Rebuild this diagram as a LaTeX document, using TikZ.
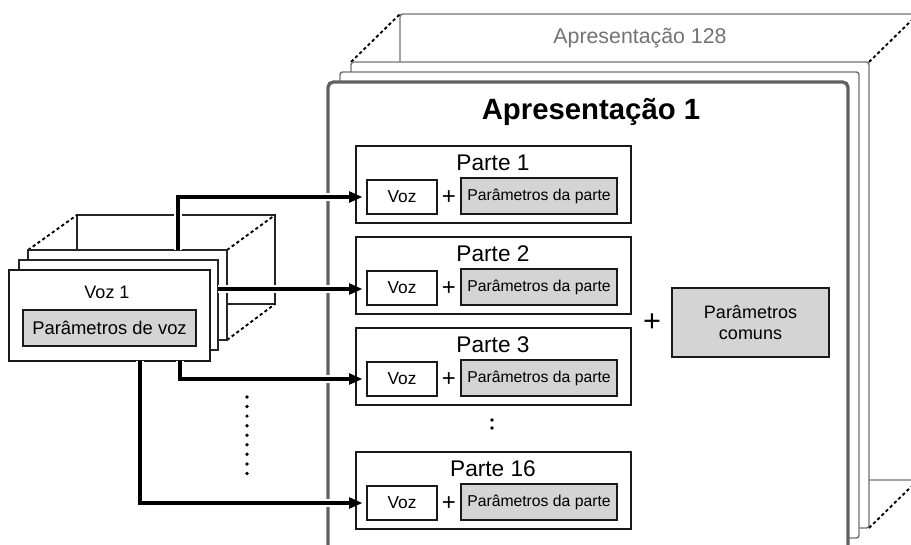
\documentclass[tikz,border=0pt]{standalone}
\usepackage{fontspec}
\setmainfont{Liberation Sans}
\usetikzlibrary{arrows.meta,positioning}
\colorlet{parmgray}{black!17}
\colorlet{framegray}{black!62}
\colorlet{sheetgray}{black!55}

\begin{document}
\begin{tikzpicture}[x=0.75pt,y=-0.75pt,-,auto]
\tikzstyle{sheet}=[draw=sheetgray,line width=1.1pt,fill=white,rounded corners=2pt]
\tikzstyle{vsheet}=[draw=black!85,line width=0.9pt,fill=white]
\tikzstyle{edgeline}=[line width=1.4pt,dash pattern=on 2.4pt off 2pt]
\tikzstyle{parte}=[draw=black!90,line width=1.6pt,fill=white,minimum width=206pt,minimum height=57.75pt,inner sep=0pt]
\tikzstyle{ttl}=[inner sep=0pt,font=\fontsize{17}{20}\selectfont]
\tikzstyle{voz}=[draw=black!90,line width=0.8pt,fill=white,minimum width=52.5pt,minimum height=25.5pt,inner sep=0pt,font=\fontsize{13}{15}\selectfont]
\tikzstyle{plus}=[inner sep=0pt,font=\fontsize{18}{20}\selectfont]
\tikzstyle{parm}=[draw=black!90,line width=1.8pt,fill=parmgray,minimum width=117pt,minimum height=27pt,inner sep=0pt,font=\fontsize{11.8}{14}\selectfont]
\tikzstyle{dots}=[line width=2.8pt,line cap=round]
\tikzstyle{link}=[line width=2.3pt,-{Triangle[length=10pt,width=8pt]},shorten >=3pt,preaction={draw=white,line width=6pt,-,shorten >=20pt}]
\useasboundingbox (0,0) rectangle (911,544);
\clip (0,0) rectangle (911,544);
% stack of presentations
\draw[sheet] (400,14) rectangle (918,480);
\node [font=\fontsize{16}{18}\selectfont,text=sheetgray] (a128) at (640,38) {Apresentação 128};
\draw[edgeline] (351,62) -- (400,14);
\draw[edgeline] (869,62) -- (918,14);
\draw[edgeline] (869,528) -- (918,480);
\draw[sheet] (351,62) rectangle (869,528);
\draw[sheet] (340,72) rectangle (859,538);
\draw[draw=framegray,line width=2.5pt,fill=white,rounded corners=4pt] (328,82) rectangle (848,580);
\node [font=\bfseries\fontsize{22}{26}\selectfont] (a1) at (591,112) {Apresentação 1};
% parts
\node [parte] (p1) at (493.5,184.5) {};
\node [ttl] (t1) at (493,163) {Parte 1};
\node [voz] (vz1) at (402,197) {Voz};
\node [plus] (q1) at (449,198) {+};
\node [parm] (pp1) at (539,196) {Parâmetros da parte};
\node [parte] (p2) at (493.5,275.5) {};
\node [ttl] (t2) at (493,254) {Parte 2};
\node [voz] (vz2) at (402,288) {Voz};
\node [plus] (q2) at (449,289) {+};
\node [parm] (pp2) at (539,287) {Parâmetros da parte};
\node [parte] (p3) at (493.5,366.5) {};
\node [ttl] (t3) at (493,345) {Parte 3};
\node [voz] (vz3) at (402,379) {Voz};
\node [plus] (q3) at (449,380) {+};
\node [parm] (pp3) at (539,378) {Parâmetros da parte};
\draw[dots,dash pattern=on 0pt off 6pt] (492,420) -- (492,436);
\node [parte] (p16) at (493.5,490.5) {};
\node [ttl] (t16) at (493,469) {Parte 16};
\node [voz] (vz16) at (402,503) {Voz};
\node [plus] (q16) at (449,504) {+};
\node [parm] (pp16) at (539,502) {Parâmetros da parte};
% common
\node [plus,font=\fontsize{23}{26}\selectfont] (q0) at (652,323) {+};
\node [parm,minimum width=117.75pt,minimum height=51.75pt,align=center,font=\fontsize{13.5}{15.75}\selectfont] (pc) at (750.5,322.5) {Parâmetros\\comuns};
% stack of voices
\draw[vsheet] (77,215) rectangle (275,304);
\draw[edgeline] (28,250) -- (77,215);
\draw[edgeline] (227,250) -- (275,215);
\draw[edgeline] (227,340) -- (275,304);
\draw[vsheet] (28,250) rectangle (227,340);
\draw[vsheet] (19,260) rectangle (218,350);
\node [draw=black!90,line width=1.9pt,fill=white,minimum width=150.75pt,minimum height=68.25pt,inner sep=0pt] (v1) at (109.5,315.5) {};
\node [font=\fontsize{13.5}{16}\selectfont] (vt) at (107,292) {Voz 1};
\node [parm,minimum width=129.75pt,font=\fontsize{13.8}{16}\selectfont] (pv) at (109.5,328) {Parâmetros de voz};
\draw[dots,dash pattern=on 0pt off 7.1667pt] (247,397) -- (247,483);
% connections
\coordinate (s1) at (178,250);
\coordinate (s2) at (218,289);
\coordinate (s3) at (180,361);
\coordinate (s4) at (140,361);
\draw[link] (s1) |- (vz1.west);
\draw[link] (s2) -- (s2 -| vz2.west);
\draw[link] (s3) |- (vz3.west);
\draw[link] (s4) |- (vz16.west);
\end{tikzpicture}
\end{document}
